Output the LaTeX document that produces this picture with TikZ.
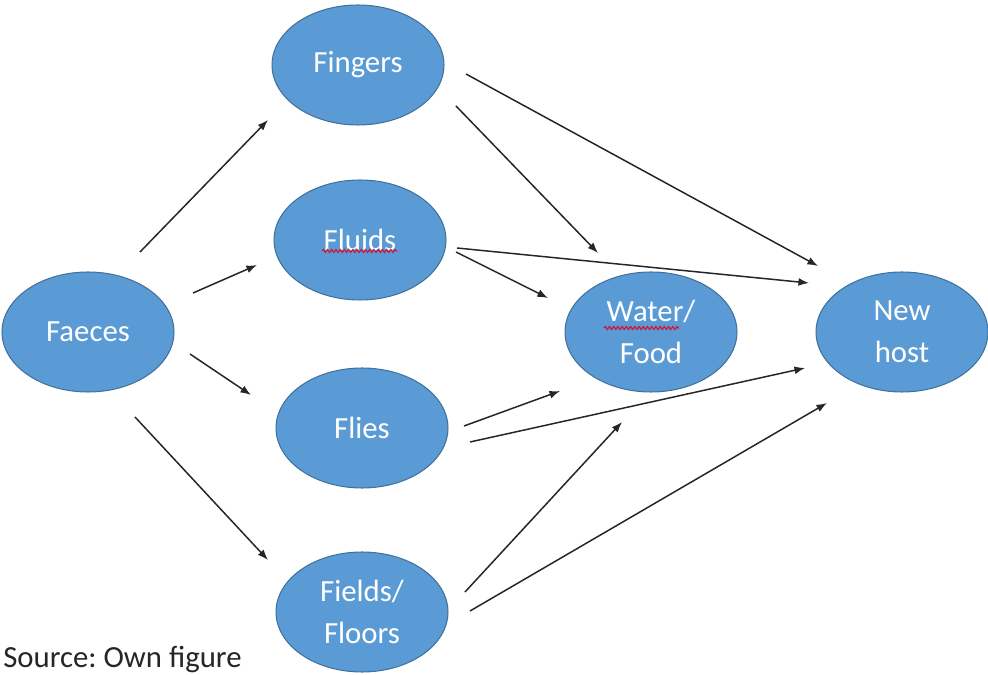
\documentclass[tikz,border=0pt]{standalone}
\usepackage{fontspec}
\setmainfont{Carlito}
\usepackage{tikz}
\usetikzlibrary{shapes.geometric,calc,arrows.meta,decorations.pathmorphing}
\definecolor{blobfill}{RGB}{91,155,213}
\definecolor{blobline}{RGB}{65,113,156}
\definecolor{spellred}{RGB}{200,30,70}
\tikzset{
  blob/.style={ellipse, fill=blobfill, draw=blobline, line width=0.6pt,
    minimum width=3.44cm, minimum height=2.4cm, inner sep=0pt,
    text=white, align=center, font=\fontsize{17.5pt}{24pt}\selectfont},
  route/.style={-{Latex[length=6pt,width=4.5pt]}, line width=0.85pt, black!85},
  spell/.style={spellred, line width=0.75pt,
    decorate, decoration={snake, amplitude=0.8pt, segment length=2.4pt}}
}
\frenchspacing
\begin{document}
\begin{tikzpicture}[x=0.02cm,y=-0.02cm]
\useasboundingbox (0,0) rectangle (988,675);
\clip (0,0) rectangle (988,675);
\node[blob] (faeces) at (88,332) {Faeces};
\node[blob] (fingers) at (358,65) {Fingers};
\node[blob] (fluids) at (360,240) {Fluids};
\node[blob] (flies) at (362,428) {Flies};
\node[blob] (fields) at (362,612) {Fields/\\Floors};
\node[blob] (water) at (651,332) {Water/\\Food};
\node[blob] (newhost) at (902,332) {New\\host};
% spelling marks
\draw[spell] ($(fluids)+(-38,11)$) -- ($(fluids)+(37,11)$);
\draw[spell] ($(water)+(-47,-4)$) -- ($(water)+(28,-4)$);
% from faeces
\draw[route] ($(faeces)+(52,-80)$) -- ($(fingers)+(-90,55)$);
\draw[route] ($(faeces)+(105,-39)$) -- ($(fluids)+(-103,25)$);
\draw[route] ($(faeces)+(102,22)$) -- ($(flies)+(-111,-33)$);
\draw[route] ($(faeces)+(47,85)$) -- ($(fields)+(-94,-52)$);
% to water / new host
\draw[route] ($(fingers)+(108,9)$) -- ($(newhost)+(-84,-66)$);
\draw[route] ($(fingers)+(98,41)$) -- ($(water)+(-53,-79)$);
\draw[route] ($(fluids)+(97,8)$) -- ($(newhost)+(-93,-49)$);
\draw[route] ($(fluids)+(96,12)$) -- ($(water)+(-103,-34)$);
\draw[route] ($(flies)+(102,-2)$) -- ($(water)+(-91,59)$);
\draw[route] ($(flies)+(108,14)$) -- ($(newhost)+(-97,36)$);
\draw[route] ($(fields)+(103,-20)$) -- ($(water)+(-29,90)$);
\draw[route] ($(fields)+(108,-1)$) -- ($(newhost)+(-75,71)$);
\node[anchor=base west, inner sep=0pt, font=\fontsize{17.5pt}{21pt}\selectfont, black!85] (source) at (3,667) {Source: Own figure};
\end{tikzpicture}
\end{document}
